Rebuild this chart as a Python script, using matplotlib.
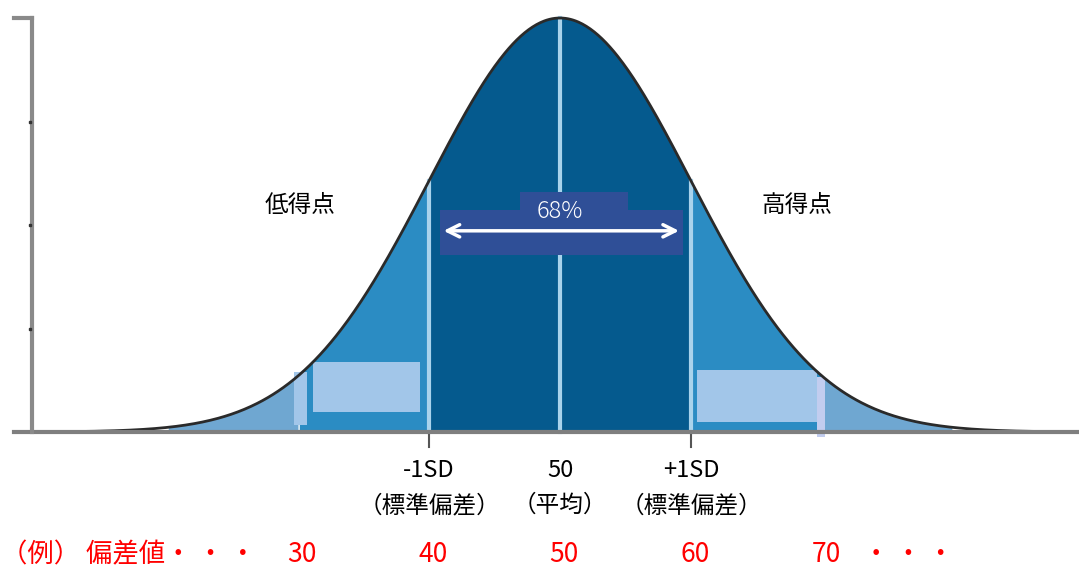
import numpy as np
import matplotlib.pyplot as plt

plt.rcParams['font.family'] = ['Noto Sans CJK JP', 'DejaVu Sans']

# distribution
mean = 50
sd = 10

# band edges in score units and fill colours
band_edges = [20, 30, 40, 60, 70, 80]
band_colors = ['#6fa7d1', '#2b8cc3', '#055a8e', '#2b8cc3', '#6fa7d1']

# labels under the axis
sd_ticks = [40, 50, 60]
sd_top = ['-1SD', '50', '+1SD']
sd_bottom = ['（標準偏差）', '（平均）', '（標準偏差）']

score_pos = [30, 40, 50, 60, 70]
score_labels = ['30', '40', '50', '60', '70']

fig = plt.figure(figsize=(10.79, 5.7), dpi=100)
ax = fig.add_axes([0, 0, 1, 1])
ax.set_xlim(7.252, 89.62)
ax.set_ylim(-0.3333, 1.0435)
ax.axis('off')

x = np.linspace(9.69, 89.62, 800)
y = np.exp(-0.5 * ((x - mean) / sd) ** 2)

for lo, hi, c in zip(band_edges[:-1], band_edges[1:], band_colors):
    m = (x >= lo) & (x <= hi)
    ax.fill_between(x[m], 0, y[m], color=c, lw=0, zorder=1)

# light boxes in the tails
ax.fill_between([31.15, 39.31], 0.048, 0.169, color='#a2c6e9', lw=0, zorder=2)
ax.fill_between([29.69, 30.69], 0.017, 0.145, color='#a2c6e9', lw=0, zorder=2)
ax.fill_between([60.46, 69.62], 0.024, 0.150, color='#a2c6e9', lw=0, zorder=2)
ax.fill_between([69.62, 70.23], -0.012, 0.133, color='#c2cdef', lw=0, zorder=2)

# white-ish sd lines
for t in sd_ticks:
    top = np.exp(-0.5 * ((t - mean) / sd) ** 2)
    ax.plot([t, t], [0, top], color='#a9d3ec', lw=3, zorder=3)
    if t != mean:
        ax.plot([t, t], [-0.036, 0], color='#555555', lw=1.5, zorder=3)

# curve
ax.plot(x, y, color='#2a2a2a', lw=2, zorder=4)

# axes lines
ax.plot([8.32, 89.62], [0, 0], color='#7f7f7f', lw=3, zorder=5)
ax.plot([9.69, 9.69], [0, 1.0], color='#8a8a8a', lw=3, zorder=5)
ax.plot([8.32, 9.69], [1.0, 1.0], color='#8a8a8a', lw=3, zorder=5)
for yt in [0.25, 0.5, 0.75]:
    ax.plot([9.55], [yt], marker='s', ms=2, color='#333333', zorder=6)

# 68% box
ax.fill_between([40.84, 59.39], 0.428, 0.536, color='#2f4f97', lw=0, zorder=6)
ax.fill_between([46.95, 55.19], 0.53, 0.58, color='#2f4f97', lw=0, zorder=6)
ax.annotate('', xy=(40.9, 0.486), xytext=(59.3, 0.486),
            arrowprops=dict(arrowstyle='<->', color='white', lw=2.5,
                            mutation_scale=22), zorder=7)
ax.text(50, 0.532, '68%', color='white', fontsize=17, ha='center',
        va='center', fontweight='light', zorder=8)

ax.text(30.15, 0.548, '低得点', fontsize=17, ha='center', va='center')
ax.text(68.09, 0.548, '高得点', fontsize=17, ha='center', va='center')

for t, a, b in zip(sd_ticks, sd_top, sd_bottom):
    ax.text(t, -0.092, a, fontsize=17, ha='center', va='center')
    ax.text(t, -0.178, b, fontsize=17, ha='center', va='center')

ax.text(7.35, -0.297, '（例） 偏差値・ ・ ・', fontsize=19, color='red',
        ha='left', va='center')
for p, s in zip(score_pos, score_labels):
    ax.text(p + 0.3, -0.297, s, fontsize=19, color='red', ha='center',
            va='center')
ax.text(76.6, -0.297, '・ ・ ・', fontsize=19, color='red', ha='center',
        va='center')

fig.savefig('out.png', dpi=100)
